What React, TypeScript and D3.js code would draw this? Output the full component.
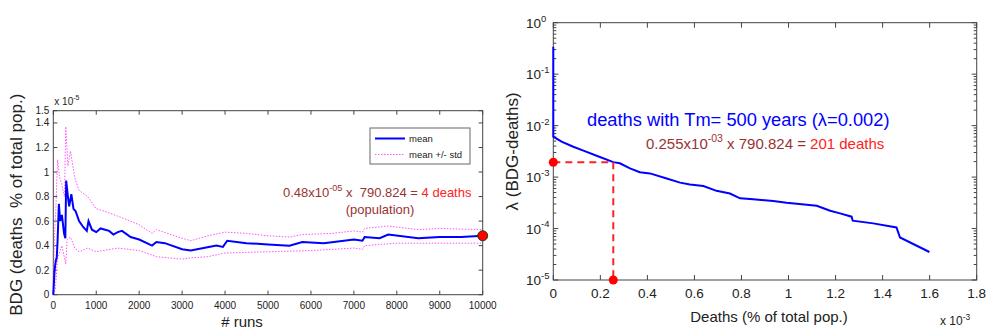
import React from 'react';
import * as d3 from 'd3';

const FONT = '"Liberation Sans", Arial, sans-serif';

// left panel: running BDG deaths (x 10^-5 % of total pop.) over the runs
const meanRuns = [0, 30, 60, 80, 100, 130, 160, 200, 250, 280, 300, 340, 370, 420, 470, 520, 600, 700, 780, 820, 900, 1000, 1100, 1300, 1400, 1500, 1600, 1800, 2000, 2300, 2400, 2600, 3000, 3200, 3500, 3800, 3950, 4050, 4500, 5000, 5500, 5800, 6300, 7000, 7200, 7250, 7600, 7800, 8500, 9000, 9500, 10000];
const meanBdg = [0, 0.2, 0.28, 0.3, 0.44, 0.74, 0.6, 0.65, 0.5, 0.46, 0.93, 0.8, 0.72, 0.82, 0.7, 0.68, 0.6, 0.55, 0.52, 0.6, 0.53, 0.51, 0.54, 0.52, 0.49, 0.51, 0.52, 0.47, 0.45, 0.4, 0.43, 0.42, 0.37, 0.36, 0.38, 0.4, 0.39, 0.44, 0.42, 0.41, 0.4, 0.43, 0.42, 0.45, 0.44, 0.47, 0.46, 0.49, 0.46, 0.47, 0.47, 0.48];
const upperRuns = [0, 30, 60, 100, 150, 200, 260, 290, 340, 400, 500, 600, 800, 1000, 1200, 1500, 1800, 2000, 2300, 2400, 3000, 3200, 3600, 4000, 4500, 5000, 5500, 5800, 6500, 7000, 7200, 7250, 7800, 8500, 9000, 10000];
const upperBdg = [0, 0.5, 0.7, 1.1, 0.95, 0.9, 0.8, 1.37, 1.05, 1.17, 0.95, 0.85, 0.8, 0.7, 0.68, 0.64, 0.6, 0.57, 0.5, 0.53, 0.46, 0.44, 0.48, 0.51, 0.5, 0.48, 0.47, 0.49, 0.5, 0.52, 0.51, 0.54, 0.56, 0.53, 0.54, 0.53];
const lowerRuns = [0, 50, 100, 150, 200, 260, 290, 320, 400, 500, 600, 800, 1000, 1500, 2000, 2400, 3000, 3200, 3600, 4000, 5000, 6000, 7000, 7200, 7250, 8000, 9000, 10000];
const lowerBdg = [0, 0.05, 0.3, 0.35, 0.4, 0.3, 0.25, 0.45, 0.47, 0.38, 0.35, 0.38, 0.35, 0.38, 0.36, 0.31, 0.29, 0.3, 0.31, 0.34, 0.35, 0.36, 0.38, 0.37, 0.4, 0.42, 0.42, 0.42];
const runTicks = [0, 1000, 2000, 3000, 4000, 5000, 6000, 7000, 8000, 9000, 10000];
const bdgTicks = [0, 0.2, 0.4, 0.6, 0.8, 1, 1.2, 1.4, 1.5];
const finalMean = 0.48;

// right panel: lambda vs deaths (x 10^-3 % of total pop.)
const deathsPct = [0, 0, 0.035, 0.085, 0.128, 0.198, 0.255, 0.283, 0.326, 0.368, 0.411, 0.482, 0.539, 0.581, 0.638, 0.694, 0.751, 0.794, 0.85, 0.935, 0.992, 1.12, 1.177, 1.219, 1.268, 1.273, 1.36, 1.459, 1.474, 1.599];
const lambdaVals = [0.34, 6.1e-3, 4.88e-3, 3.89e-3, 3.26e-3, 2.45e-3, 1.95e-3, 1.85e-3, 1.48e-3, 1.24e-3, 1.18e-3, 9.4e-4, 7.8e-4, 7.2e-4, 6.7e-4, 5.4e-4, 4.8e-4, 3.86e-4, 3.69e-4, 3.43e-4, 3.18e-4, 2.78e-4, 2.22e-4, 1.97e-4, 1.7e-4, 1.42e-4, 1.26e-4, 1.05e-4, 6.7e-5, 3.5e-5];
const deathTicks = [0, 0.2, 0.4, 0.6, 0.8, 1, 1.2, 1.4, 1.6, 1.8];
const lambdaExps = [0, -1, -2, -3, -4, -5];
const markDeaths = 0.255;
const markLambda = 0.00194;

const AXIS = '#444';

const Sup = ({ base, exp, size }) => (
  <>
    <tspan>{base}</tspan>
    <tspan dy={-size * 0.45} fontSize={size * 0.7}>{exp}</tspan>
  </>
);

const LeftPanel = () => {
  const x0 = 53.3, x1 = 482.7, yT = 110.7, yB = 294.7;
  const x = d3.scaleLinear().domain([0, 10000]).range([x0, x1]);
  const y = d3.scaleLinear().domain([0, 1.5]).range([yB, yT]);
  const line = d3.line<[number, number]>().x(d => x(d[0])).y(d => y(d[1]));
  const mean = meanRuns.map((r, i) => [r, meanBdg[i]] as [number, number]);
  const up = upperRuns.map((r, i) => [r, upperBdg[i]] as [number, number]);
  const lo = lowerRuns.map((r, i) => [r, lowerBdg[i]] as [number, number]);
  return (
    <g fontFamily={FONT}>
      <rect x={x0} y={yT} width={x1 - x0} height={yB - yT} fill="white" stroke={AXIS} strokeWidth={1} />
      {runTicks.map(t => (
        <g key={'xt' + t}>
          <line x1={x(t)} x2={x(t)} y1={yB} y2={yB - 4} stroke={AXIS} />
          <line x1={x(t)} x2={x(t)} y1={yT} y2={yT + 4} stroke={AXIS} />
          <text x={x(t)} y={yB + 14} fontSize={10} textAnchor="middle" fill="#222">{t}</text>
        </g>
      ))}
      {bdgTicks.map(t => (
        <g key={'yt' + t}>
          <line x1={x0} x2={x0 + 4} y1={y(t)} y2={y(t)} stroke={AXIS} />
          <line x1={x1} x2={x1 - 4} y1={y(t)} y2={y(t)} stroke={AXIS} />
          <text x={x0 - 4} y={y(t) + 3.5} fontSize={10} textAnchor="end" fill="#222">{t}</text>
        </g>
      ))}
      <text x={x0 + 1} y={yT - 6} fontSize={10} fill="#222"><Sup base="x 10" exp="-5" size={10} /></text>
      <path d={line(up)} fill="none" stroke="#ff55ff" strokeWidth={1} strokeDasharray="1.5 1.5" />
      <path d={line(lo)} fill="none" stroke="#ff55ff" strokeWidth={1} strokeDasharray="1.5 1.5" />
      <path d={line(mean)} fill="none" stroke="#0000ff" strokeWidth={2} />
      <circle cx={x(10000)} cy={y(finalMean)} r={5} fill="#ff0000" stroke="#204000" strokeWidth={1} />
      {/* legend */}
      <rect x={370} y={128} width={100} height={36} fill="white" stroke="#666" />
      <line x1={375} x2={405} y1={138.5} y2={138.5} stroke="#0000ff" strokeWidth={2} />
      <text x={409} y={142} fontSize={9.5} fill="#222">mean</text>
      <line x1={375} x2={405} y1={154.5} y2={154.5} stroke="#ff55ff" strokeDasharray="1.5 1.5" />
      <text x={409} y={158} fontSize={9.5} fill="#222">mean +/- std</text>
      {/* annotation */}
      <text x={283} y={197} fontSize={13} fill="#993333" style={{ whiteSpace: 'pre' }}>
        <Sup base="0.48x10" exp="-05" size={13} />
        <tspan dy={13 * 0.45}>{' x  790.824 = '}</tspan>
        <tspan fill="#ff2222">4 deaths</tspan>
      </text>
      <text x={380} y={214} fontSize={13} textAnchor="middle" fill="#993333">(population)</text>
      <text x={242} y={327} fontSize={15} textAnchor="middle" fill="#222"># runs</text>
      <text transform={`translate(22, ${(yT + yB) / 2 + 2}) rotate(-90)`} fontSize={17} textAnchor="middle" fill="#222" style={{ whiteSpace: 'pre' }}>BDG (deaths  % of total pop.)</text>
    </g>
  );
};

const RightPanel = () => {
  const x0 = 553.3, x1 = 976.7, yT = 22.7, yB = 280;
  const x = d3.scaleLinear().domain([0, 1.8]).range([x0, x1]);
  const y = d3.scaleLog().domain([1e-5, 1]).range([yB, yT]);
  const line = d3.line<[number, number]>().x(d => x(d[0])).y(d => y(d[1]));
  const pts = deathsPct.map((v, i) => [v, lambdaVals[i]] as [number, number]);
  const minor: number[] = [];
  lambdaExps.slice(1).forEach(e => d3.range(2, 10).forEach(m => minor.push(m * Math.pow(10, e))));
  return (
    <g fontFamily={FONT}>
      <rect x={x0} y={yT} width={x1 - x0} height={yB - yT} fill="white" stroke={AXIS} strokeWidth={1} />
      {deathTicks.map(t => (
        <g key={'xt' + t}>
          <line x1={x(t)} x2={x(t)} y1={yB} y2={yB - 5} stroke={AXIS} />
          <line x1={x(t)} x2={x(t)} y1={yT} y2={yT + 5} stroke={AXIS} />
          <text x={x(t)} y={yB + 18} fontSize={13.5} textAnchor="middle" fill="#222">{t}</text>
        </g>
      ))}
      {minor.map((t, i) => (
        <g key={'mt' + i}>
          <line x1={x0} x2={x0 + 3} y1={y(t)} y2={y(t)} stroke={AXIS} />
          <line x1={x1} x2={x1 - 3} y1={y(t)} y2={y(t)} stroke={AXIS} />
        </g>
      ))}
      {lambdaExps.map(e => (
        <g key={'yt' + e}>
          <line x1={x0} x2={x0 + 5} y1={y(Math.pow(10, e))} y2={y(Math.pow(10, e))} stroke={AXIS} />
          <line x1={x1} x2={x1 - 5} y1={y(Math.pow(10, e))} y2={y(Math.pow(10, e))} stroke={AXIS} />
          <text x={526} y={y(Math.pow(10, e)) + 5} fontSize={13.5} fill="#222"><Sup base="10" exp={String(e)} size={13.5} /></text>
        </g>
      ))}
      <path d={line(pts)} fill="none" stroke="#0000ff" strokeWidth={2} />
      <polyline points={`${x0},${y(markLambda)} ${x(markDeaths)},${y(markLambda)} ${x(markDeaths)},${yB}`} fill="none" stroke="#ff2222" strokeWidth={2} strokeDasharray="7 5" />
      <circle cx={x0} cy={y(markLambda)} r={4.5} fill="#ff0000" />
      <circle cx={x(markDeaths)} cy={yB} r={4.5} fill="#ff0000" />
      <text x={587} y={126} fontSize={18.3} fill="#0000ff">deaths with Tm= 500 years (λ=0.002)</text>
      <text x={646} y={149} fontSize={15} fill="#993333">
        <Sup base="0.255x10" exp="-03" size={15} />
        <tspan dy={15 * 0.45}>{' x 790.824 = '}</tspan>
        <tspan fill="#ff2222">201 deaths</tspan>
      </text>
      <text x={769} y={322} fontSize={15} textAnchor="middle" fill="#222">Deaths (% of total pop.)</text>
      <text x={940} y={325} fontSize={12} fill="#222"><Sup base="x 10" exp="-3" size={12} /></text>
      <text transform={`translate(518, ${(yT + yB) / 2}) rotate(-90)`} fontSize={17} textAnchor="middle" fill="#222">λ (BDG-deaths)</text>
    </g>
  );
};

export default function App() {
  return (
    <svg width={987} height={330} style={{ position: 'absolute', left: 0, top: 0, background: 'white' }}>
      <rect width={987} height={330} fill="white" />
      <LeftPanel />
      <RightPanel />
    </svg>
  );
}
